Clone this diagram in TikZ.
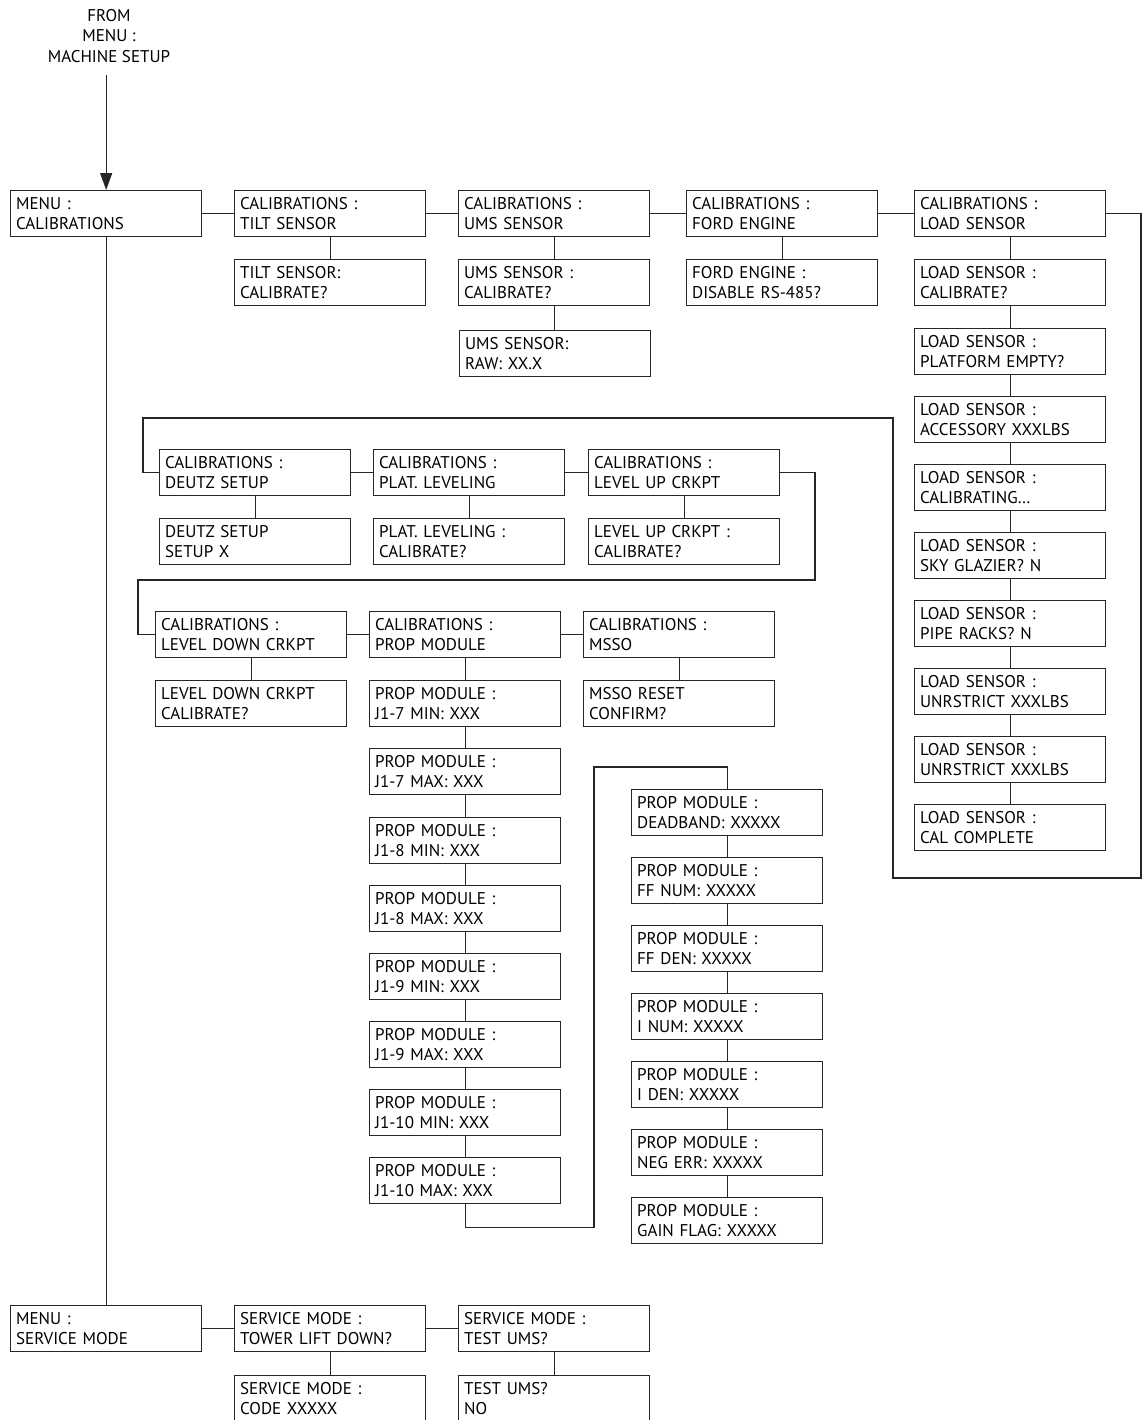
\documentclass[tikz,border=0pt]{standalone}
\usepackage{fontspec}
\setmainfont{PT Sans}
\usetikzlibrary{arrows.meta, positioning}
\tikzset{
  menubox/.style={draw, rectangle, anchor=north west, minimum width=95.5pt,
    minimum height=23pt, text width=90pt, inner xsep=2.5pt, inner ysep=0pt,
    align=left, font=\fontsize{8.5}{10.3}\selectfont},
  link/.style={draw=black!85, line width=0.65pt}
}

\begin{document}
\begin{tikzpicture}[x=0.5pt, y=-0.5pt, line width=0.65pt, draw=black!85]
  \useasboundingbox (0,0) rectangle (1143,1420);
  \node[align=center, font=\fontsize{8.5}{10.3}\selectfont] (start) at (109,36) {FROM\\MENU :\\MACHINE SETUP};
  %
  \node[menubox] (menucal) at (10,190) {MENU :\\CALIBRATIONS};
  \node[menubox] (caltilt) at (234,190) {CALIBRATIONS :\\TILT SENSOR};
  \node[menubox] (calums) at (458,190) {CALIBRATIONS :\\UMS SENSOR};
  \node[menubox] (calford) at (686,190) {CALIBRATIONS :\\FORD ENGINE};
  \node[menubox] (calload) at (914,190) {CALIBRATIONS :\\LOAD SENSOR};
  \node[menubox] (tiltcal) at (234,259) {TILT SENSOR:\\CALIBRATE?};
  \node[menubox] (umscal) at (458,259) {UMS SENSOR :\\CALIBRATE?};
  \node[menubox] (umsraw) at (459,330) {UMS SENSOR:\\RAW: XX.X};
  \node[menubox] (forddis) at (686,259) {FORD ENGINE :\\DISABLE RS-485?};
  % load sensor column
  \node[menubox] (loada) at (914,259) {LOAD SENSOR :\\CALIBRATE?};
  \node[menubox] (loadb) at (914,328) {LOAD SENSOR :\\PLATFORM EMPTY?};
  \node[menubox] (loadc) at (914,396) {LOAD SENSOR :\\ACCESSORY XXXLBS};
  \node[menubox] (loadd) at (914,464) {LOAD SENSOR :\\CALIBRATING\ldots};
  \node[menubox] (loade) at (914,532) {LOAD SENSOR :\\SKY GLAZIER? N};
  \node[menubox] (loadf) at (914,600) {LOAD SENSOR :\\PIPE RACKS? N};
  \node[menubox] (loadg) at (914,668) {LOAD SENSOR :\\UNRSTRICT XXXLBS};
  \node[menubox] (loadh) at (914,736) {LOAD SENSOR :\\UNRSTRICT XXXLBS};
  \node[menubox] (loadi) at (914,804) {LOAD SENSOR :\\CAL COMPLETE};
  %
  \node[menubox] (caldeutz) at (159,449) {CALIBRATIONS :\\DEUTZ SETUP};
  \node[menubox] (calplat) at (373,449) {CALIBRATIONS :\\PLAT. LEVELING};
  \node[menubox] (calup) at (588,449) {CALIBRATIONS :\\LEVEL UP CRKPT};
  \node[menubox] (deutzset) at (159,518) {DEUTZ SETUP\\SETUP X};
  \node[menubox] (platcal) at (373,518) {PLAT. LEVELING :\\CALIBRATE?};
  \node[menubox] (upcal) at (588,518) {LEVEL UP CRKPT :\\CALIBRATE?};
  %
  \node[menubox] (caldown) at (155,611) {CALIBRATIONS :\\LEVEL DOWN CRKPT};
  \node[menubox] (calprop) at (369,611) {CALIBRATIONS :\\PROP MODULE};
  \node[menubox] (calmsso) at (583,611) {CALIBRATIONS :\\MSSO};
  \node[menubox] (downcal) at (155,680) {LEVEL DOWN CRKPT\\CALIBRATE?};
  \node[menubox] (mssoreset) at (583,680) {MSSO RESET\\CONFIRM?};
  % prop module, first column
  \node[menubox] (propa) at (369,680) {PROP MODULE :\\J1-7 MIN: XXX};
  \node[menubox] (propb) at (369,748) {PROP MODULE :\\J1-7 MAX: XXX};
  \node[menubox] (propc) at (369,817) {PROP MODULE :\\J1-8 MIN: XXX};
  \node[menubox] (propd) at (369,885) {PROP MODULE :\\J1-8 MAX: XXX};
  \node[menubox] (prope) at (369,953) {PROP MODULE :\\J1-9 MIN: XXX};
  \node[menubox] (propf) at (369,1021) {PROP MODULE :\\J1-9 MAX: XXX};
  \node[menubox] (propg) at (369,1089) {PROP MODULE :\\J1-10 MIN: XXX};
  \node[menubox] (proph) at (369,1157) {PROP MODULE :\\J1-10 MAX: XXX};
  % prop module, second column
  \node[menubox] (gaina) at (631,789) {PROP MODULE :\\DEADBAND: XXXXX};
  \node[menubox] (gainb) at (631,857) {PROP MODULE :\\FF NUM: XXXXX};
  \node[menubox] (gainc) at (631,925) {PROP MODULE :\\FF DEN: XXXXX};
  \node[menubox] (gaind) at (631,993) {PROP MODULE :\\I NUM: XXXXX};
  \node[menubox] (gaine) at (631,1061) {PROP MODULE :\\I DEN: XXXXX};
  \node[menubox] (gainf) at (631,1129) {PROP MODULE :\\NEG ERR: XXXXX};
  \node[menubox] (gaing) at (631,1197) {PROP MODULE :\\GAIN FLAG: XXXXX};
  %
  \node[menubox] (menusvc) at (10,1305) {MENU :\\SERVICE MODE};
  \node[menubox] (svctower) at (234,1305) {SERVICE MODE :\\TOWER LIFT DOWN?};
  \node[menubox] (svcums) at (458,1305) {SERVICE MODE :\\TEST UMS?};
  \node[menubox] (svccode) at (234,1375) {SERVICE MODE :\\CODE XXXXX};
  \node[menubox] (umsno) at (458,1375) {TEST UMS?\\NO};
  %
  \draw[-{Triangle[length=8.5pt, width=6pt]}] (menucal.north |- 0,75) -- (menucal.north);
  \draw[link] (menucal.east) -- (caltilt.west);
  \draw[link] (caltilt.east) -- (calums.west);
  \draw[link] (calums.east) -- (calford.west);
  \draw[link] (calford.east) -- (calload.west);
  \draw[link] (caltilt.south) -- (tiltcal.north);
  \draw[link] (calums.south) -- (umscal.north);
  \draw[link] (umscal.south) -- (umscal.south |- umsraw.north);
  \draw[link] (calford.south) -- (forddis.north);
  \draw[link] (calload.south) -- (loada.north);
  \draw[link] (loada.south) -- (loadb.north);
  \draw[link] (loadb.south) -- (loadc.north);
  \draw[link] (loadc.south) -- (loadd.north);
  \draw[link] (loadd.south) -- (loade.north);
  \draw[link] (loade.south) -- (loadf.north);
  \draw[link] (loadf.south) -- (loadg.north);
  \draw[link] (loadg.south) -- (loadh.north);
  \draw[link] (loadh.south) -- (loadi.north);
  \draw[link] (calload.east) -| (1141,878) -- (893,878) -- (893,418) -- (143,418) |- (caldeutz.west);
  %
  \draw[link] (caldeutz.east) -- (calplat.west);
  \draw[link] (calplat.east) -- (calup.west);
  \draw[link] (caldeutz.south) -- (deutzset.north);
  \draw[link] (calplat.south) -- (platcal.north);
  \draw[link] (calup.south) -- (upcal.north);
  \draw[link] (calup.east) -| (815,580) -- (138,580) |- (caldown.west);
  %
  \draw[link] (caldown.east) -- (calprop.west);
  \draw[link] (calprop.east) -- (calmsso.west);
  \draw[link] (caldown.south) -- (downcal.north);
  \draw[link] (calprop.south) -- (propa.north);
  \draw[link] (calmsso.south) -- (mssoreset.north);
  \draw[link] (propa.south) -- (propb.north);
  \draw[link] (propb.south) -- (propc.north);
  \draw[link] (propc.south) -- (propd.north);
  \draw[link] (propd.south) -- (prope.north);
  \draw[link] (prope.south) -- (propf.north);
  \draw[link] (propf.south) -- (propg.north);
  \draw[link] (propg.south) -- (proph.north);
  \draw[link] (proph.south) -- ++(0,23) -| (594,767) -| (gaina.north);
  \draw[link] (gaina.south) -- (gainb.north);
  \draw[link] (gainb.south) -- (gainc.north);
  \draw[link] (gainc.south) -- (gaind.north);
  \draw[link] (gaind.south) -- (gaine.north);
  \draw[link] (gaine.south) -- (gainf.north);
  \draw[link] (gainf.south) -- (gaing.north);
  %
  \draw[link] (menucal.south) -- (menusvc.north);
  \draw[link] (menusvc.east) -- (svctower.west);
  \draw[link] (svctower.east) -- (svcums.west);
  \draw[link] (svctower.south) -- (svccode.north);
  \draw[link] (svcums.south) -- (umsno.north);
\end{tikzpicture}
\end{document}
